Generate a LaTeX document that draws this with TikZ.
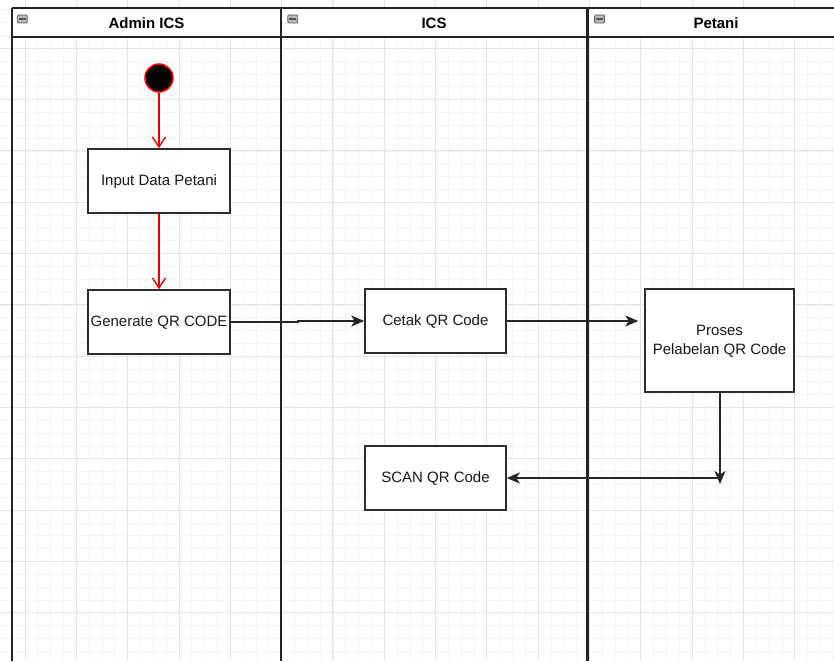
\documentclass[tikz,border=0pt]{standalone}
\usepackage{fontspec}
\setmainfont{Liberation Sans}
\usetikzlibrary{arrows.meta}
\definecolor{gminor}{RGB}{244,244,244}
\definecolor{gmajor}{RGB}{228,228,228}
\definecolor{lanec}{RGB}{35,35,35}
\definecolor{boxc}{RGB}{45,45,45}
\definecolor{txtc}{RGB}{25,25,25}
\definecolor{iconf}{RGB}{185,185,185}
\definecolor{icond}{RGB}{85,85,85}
\tikzset{
  actbox/.style={draw=boxc, line width=1.5pt, fill=white, inner sep=0pt, align=center,
    text=txtc, font=\fontsize{15}{18.5}\selectfont, text depth=1pt},
  lanehead/.style={font=\bfseries\fontsize{15}{18}\selectfont, text=black, inner sep=0pt},
  lanerule/.style={draw=lanec, line width=2.4pt},
  headrule/.style={draw=lanec, line width=1.8pt},
  redarr/.style={draw=red!90!black, line width=1.4pt, -{Straight Barb[length=10pt,width=13pt,line width=1.4pt]}},
  blkarr/.style={draw=black!85, line width=1.5pt, -{Stealth[length=13pt,width=11pt,inset=3.5pt]}},
  minusicon/.style={draw=icond, line width=0.7pt, fill=iconf, rounded corners=1pt, minimum width=10pt, minimum height=8pt, inner sep=0pt},
}
\begin{document}
\begin{tikzpicture}[x=1pt,y=-1pt]
\useasboundingbox (0,0) rectangle (834,661);
\fill[white] (0,0) rectangle (834,661);
% grid
\foreach \i in {-1,...,64}{
  \draw[gminor, line width=0.8pt] ({25+12.83*\i},0) -- ({25+12.83*\i},661);
}
\foreach \j in {-3,...,48}{
  \draw[gminor, line width=0.8pt] (0,{48.3+12.83*\j}) -- (834,{48.3+12.83*\j});
}
\foreach \i in {0,...,16}{
  \draw[gmajor, line width=0.9pt] ({25+51.32*\i},0) -- ({25+51.32*\i},661);
}
\foreach \j in {-1,...,12}{
  \draw[gmajor, line width=0.9pt] (0,{48.3+51.32*\j}) -- (834,{48.3+51.32*\j});
}
% lane headers
\fill[white] (12,8) rectangle (834,37);
\draw[headrule] (12,8) -- (834,8);
\draw[headrule] (12,37) -- (834,37);
\draw[lanerule] (12,8) -- (12,661);
\draw[lanerule] (281,8) -- (281,661);
\draw[lanerule] (587.5,8) -- (587.5,661);
\node[lanehead] (h1) at (146.5,23) {Admin ICS};
\node[lanehead] (h2) at (434,23) {ICS};
\node[lanehead] (h3) at (716,23) {Petani};
\node[minusicon] (m1) at (22.3,19) {};
\node[minusicon] (m2) at (292.8,19) {};
\node[minusicon] (m3) at (599.5,19) {};
\foreach \m in {m1,m2,m3}{ \draw[icond, line width=1.5pt] ([xshift=2pt]\m.west) -- ([xshift=-2pt]\m.east); }
% nodes
\node[circle, fill=black, draw=red, line width=1.5pt, minimum size=28pt, inner sep=0pt] (start) at (159,78) {};
\node[actbox, minimum width=142pt, minimum height=64pt] (input) at (159,181) {Input Data Petani};
\node[actbox, minimum width=142pt, minimum height=64pt] (gen) at (159,322) {Generate QR CODE};
\node[actbox, minimum width=141pt, minimum height=64pt] (cetak) at (435.5,321) {Cetak QR Code};
\node[actbox, minimum width=149pt, minimum height=103pt] (proses) at (719.5,340.5) {Proses\\Pelabelan QR Code};
\node[actbox, minimum width=141pt, minimum height=64pt] (scan) at (435.5,478) {SCAN QR Code};
\coordinate (corner) at (720,484);
\coordinate (hstart) at (corner |- scan.east);
% connectors
\draw[redarr] (start) -- (input);
\draw[redarr] (input) -- (gen);
\draw[blkarr] (gen.east) -- ++(67,0) |- (cetak.west);
\draw[blkarr, shorten >=6pt] (cetak.east) -- (cetak.east -| proses.west);
\draw[blkarr] (proses.south -| corner) -- (corner);
\draw[blkarr] (hstart) -- (scan.east);
\end{tikzpicture}
\end{document}
